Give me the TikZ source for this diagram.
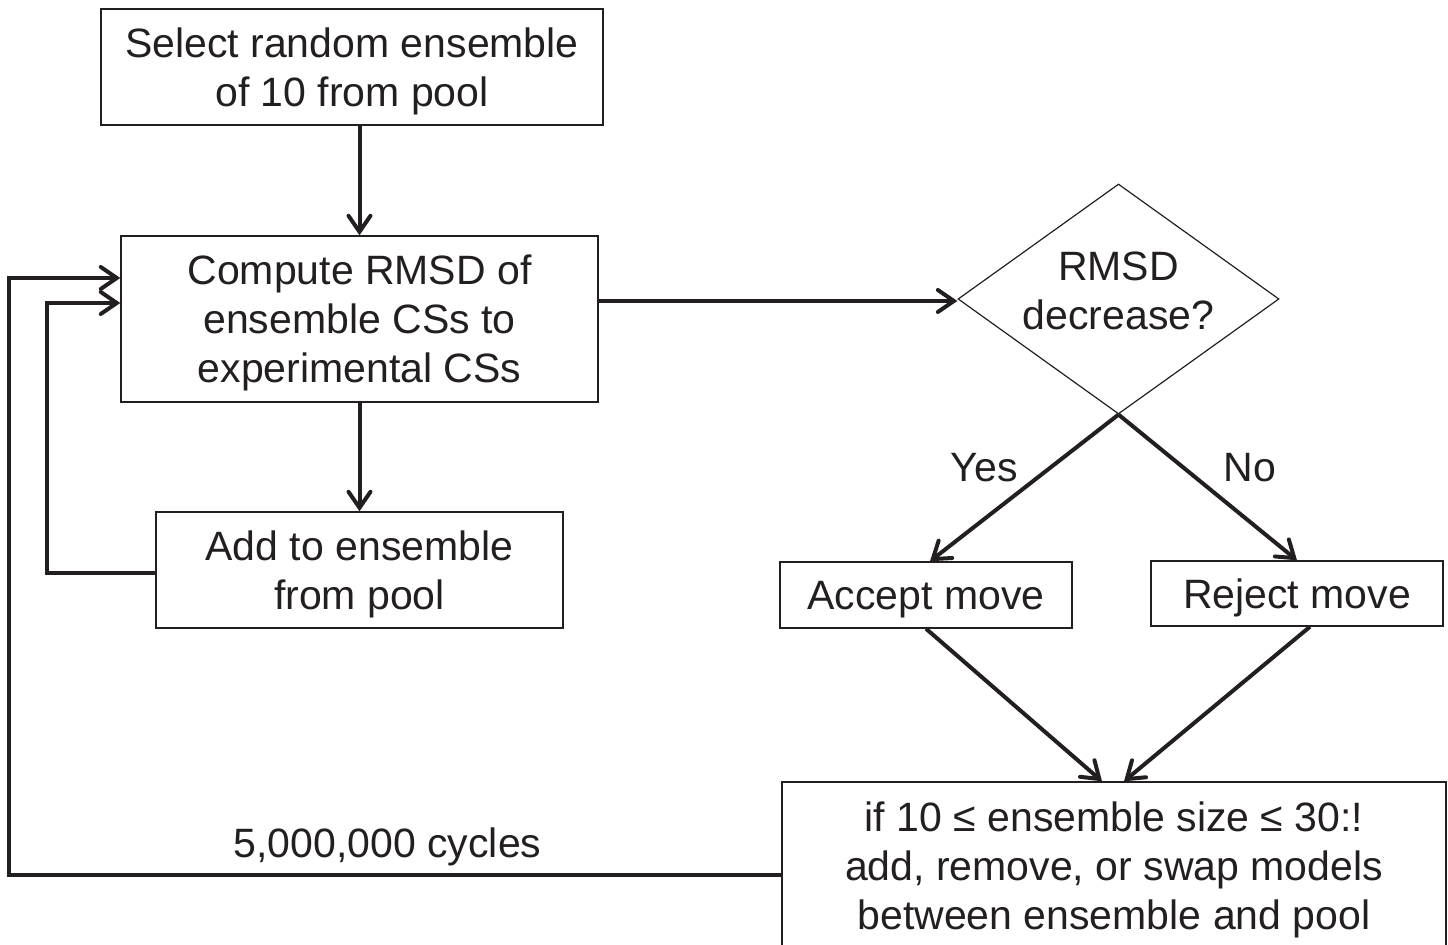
\documentclass[tikz,border=0pt]{standalone}
\usepackage{fontspec}
\setmainfont{Liberation Sans}
\usetikzlibrary{arrows.meta, shapes.geometric, positioning}
\definecolor{inkclr}{HTML}{231F20}

\begin{document}
\begin{tikzpicture}[x=0.5pt,y=-0.5pt,
  font=\fontsize{20.5}{24.5}\selectfont, color=inkclr,
  box node/.style={rectangle,draw,line width=0.7pt,align=center,inner sep=0pt,text depth=0pt},
  decision node/.style={diamond,draw,line width=0.6pt,inner sep=0pt},
  flow/.style={line width=2pt,-{Straight Barb[length=8pt,width=11pt,line cap=round]}}]

  \useasboundingbox (0,0) rectangle (1448,945);

  \node[box node, minimum width=251pt, minimum height=58pt] (sel) at (352,67) {Select random ensemble\\of 10 from pool};
  \node[box node, minimum width=238.5pt, minimum height=83pt] (cmp) at (359.5,319) {Compute RMSD of\\ensemble CSs to\\experimental CSs};
  \node[box node, minimum width=203.5pt, minimum height=58pt] (add) at (359.5,570) {Add to ensemble\\from pool};
  \node[decision node, minimum width=160.5pt, minimum height=115pt,
        label={[align=center, yshift=4pt]center:RMSD\\decrease?}] (dec) at (1118.5,299) {};
  \node[box node, minimum width=146pt, minimum height=33pt] (acc) at (926,595) {Accept move};
  \node[box node, minimum width=146pt, minimum height=32.5pt] (rej) at (1297,593.5) {Reject move};
  \node[box node, minimum width=332pt, minimum height=84pt] (bot) at (1114,866) {if 10 ≤ ensemble size ≤ 30:!\\add, remove, or swap models\\between ensemble and pool};

  \coordinate (in1) at ([yshift=8pt]cmp.west);
  \coordinate (in2) at ([yshift=20.5pt]cmp.west);

  \draw[flow] (cmp.north |- sel.south) -- (cmp.north);
  \draw[flow] (cmp.south) -- (add.north);
  \draw[flow] ([yshift=-1pt]cmp.east |- dec.west) -- ([yshift=-1pt]dec.west);
  \draw[flow] (dec.south) -- node[xshift=-20pt, yshift=10pt] {Yes} ([xshift=2pt]acc.north);
  \draw[flow] (dec.south) -- node[xshift=21pt, yshift=10pt] {No} (rej.north);
  \draw[flow] (acc.south) -- ([xshift=-6pt]bot.north);
  \draw[flow] ([xshift=6.5pt]rej.south) -- ([xshift=5pt]bot.north);

  % loops back to the RMSD step
  \draw[flow] ([yshift=-1.5pt]add.west) -- ++(-108,0) |- (in1);
  \draw[flow] ([yshift=-4.5pt]bot.west) -- node[above, pos=0.51] {5,000,000 cycles} ++(-772,0) |- (in2);
\end{tikzpicture}
\end{document}
